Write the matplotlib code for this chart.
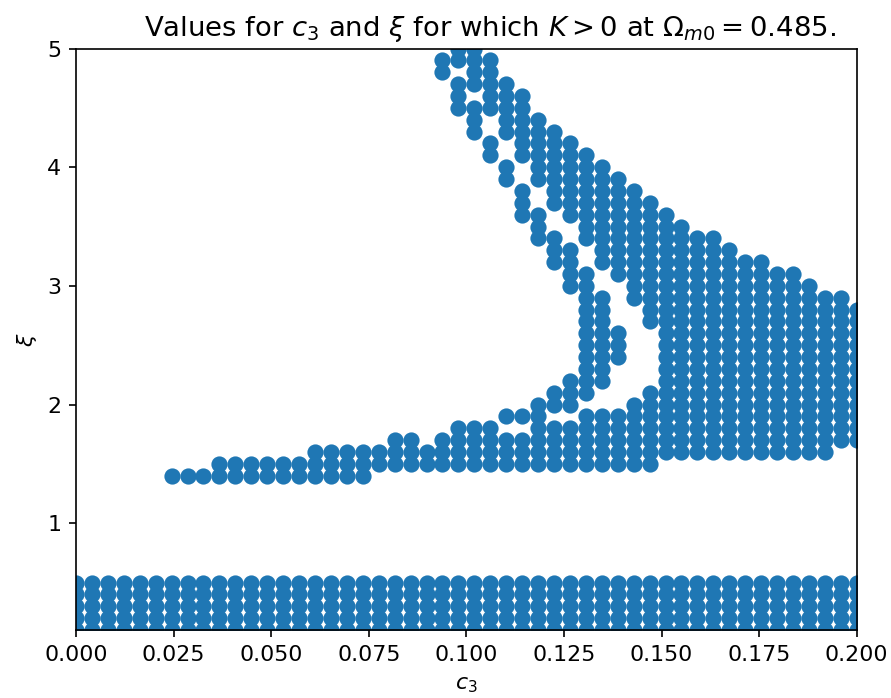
import numpy as np
import matplotlib
matplotlib.use("Agg")
import matplotlib.pyplot as plt

# sampling grid of the scan
c3_grid = np.linspace(0.0, 0.2, 50)
xi_grid = np.linspace(0.1, 5.0, 50)

# xi band present in every c3 column
low_band = (0.1, 0.5)

# extra xi ranges (lo, hi) per c3 column index
upper_bands = {
    6: [(1.4, 1.4)], 7: [(1.4, 1.4)], 8: [(1.4, 1.4)],
    9: [(1.4, 1.5)], 10: [(1.4, 1.5)], 11: [(1.4, 1.5)],
    12: [(1.4, 1.5)], 13: [(1.4, 1.5)], 14: [(1.4, 1.5)],
    15: [(1.4, 1.6)], 16: [(1.4, 1.6)], 17: [(1.4, 1.6)], 18: [(1.4, 1.6)],
    19: [(1.5, 1.6)], 20: [(1.5, 1.7)], 21: [(1.5, 1.7)], 22: [(1.5, 1.6)],
    23: [(1.5, 1.7), (4.8, 4.9)],
    24: [(1.5, 1.8), (4.5, 4.7), (4.9, 5.0)],
    25: [(1.5, 1.8), (4.3, 4.5), (4.7, 5.0)],
    26: [(1.5, 1.8), (4.1, 4.2), (4.5, 4.9)],
    27: [(1.5, 1.7), (1.9, 1.9), (3.9, 4.0), (4.3, 4.7)],
    28: [(1.5, 1.7), (1.9, 1.9), (3.6, 3.8), (4.1, 4.6)],
    29: [(1.5, 2.0), (3.4, 3.6), (3.9, 4.4)],
    30: [(1.5, 1.8), (2.0, 2.1), (3.2, 3.4), (3.7, 4.3)],
    31: [(1.5, 1.8), (2.0, 2.2), (3.0, 3.3), (3.6, 4.2)],
    32: [(1.5, 1.9), (2.1, 3.1), (3.4, 4.1)],
    33: [(1.5, 1.9), (2.2, 2.9), (3.2, 4.0)],
    34: [(1.5, 1.9), (2.4, 2.6), (3.1, 3.9)],
    35: [(1.5, 2.0), (2.9, 3.8)],
    36: [(1.5, 2.1), (2.7, 3.7)],
    37: [(1.6, 3.6)], 38: [(1.6, 3.5)], 39: [(1.6, 3.4)], 40: [(1.6, 3.4)],
    41: [(1.6, 3.3)], 42: [(1.6, 3.2)], 43: [(1.6, 3.2)], 44: [(1.6, 3.1)],
    45: [(1.6, 3.1)], 46: [(1.6, 3.0)], 47: [(1.6, 2.9)], 48: [(1.7, 2.9)],
    49: [(1.7, 2.8)],
}

xs, ys = [], []
for k, c in enumerate(c3_grid):
    for lo, hi in [low_band] + upper_bands.get(k, []):
        sel = xi_grid[(xi_grid > lo - 0.05) & (xi_grid < hi + 0.05)]
        xs.extend([c] * len(sel))
        ys.extend(sel)

plt.rcParams["font.size"] = 10.6
fig = plt.figure(figsize=(891 / 150, 698 / 150), dpi=150)
ax = fig.add_axes([76 / 891, 1 - 630 / 698, (856.7 - 76) / 891, (630 - 48.5) / 698])
ax.scatter(xs, ys, s=46)
ax.set_xlim(0, 0.2)
ax.set_ylim(0.1, 5)
ax.set_xticks(np.arange(0, 0.2001, 0.025))
ax.xaxis.set_major_formatter(matplotlib.ticker.FormatStrFormatter("%.3f"))
ax.set_yticks([1, 2, 3, 4, 5])
ax.set_xlabel(r"$c_3$", labelpad=5)
ax.set_ylabel(r"$\xi$")
ax.set_title(r"Values for $c_3$ and $\xi$ for which $K > 0$ at $\Omega_{m0} = 0.485$.",
             fontsize=13.2, x=0.53)
fig.savefig("out.png", dpi=150)
